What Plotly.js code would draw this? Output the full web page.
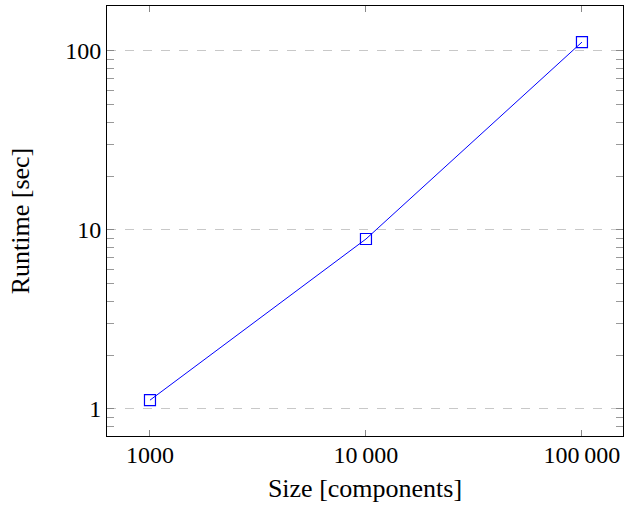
<!DOCTYPE html>
<html>
<head>
<meta charset="utf-8">
<script src="https://cdn.plot.ly/plotly-3.0.1.min.js"></script>
<style>html,body{margin:0;padding:0;background:#fff;}#chart{width:624px;height:510px;}</style>
</head>
<body>
<div id="chart"></div>
<script>
const sizes = [1000, 10000, 100000];
const runtimes = [1.12, 8.9, 112];
const xTickVals = [1000, 10000, 100000];
const xTickText = ["1000", "10\u2009000", "100\u2009000"];
const yTickVals = [1, 10, 100];
const yTickText = ["1", "10", "100"];

const tickFont = {family: "Liberation Serif", size: 24, color: "#000"};
const titleFont = {family: "Liberation Serif", size: 26, color: "#000"};

const trace = {
  x: sizes, y: runtimes, type: "scatter", mode: "lines+markers",
  line: {color: "#0000ff", width: 1},
  marker: {symbol: "square-open", size: 11, color: "#0000ff", line: {width: 1.2}},
  showlegend: false
};

const layout = {
  width: 624, height: 510,
  margin: {l: 107, r: 1, t: 6, b: 74},
  paper_bgcolor: "#fff", plot_bgcolor: "#fff",
  font: tickFont,
  xaxis: {
    type: "log", range: [Math.log10(1000) - 0.199, Math.log10(100000) + 0.19],
    tickvals: xTickVals, ticktext: xTickText,
    ticks: "inside", ticklen: 6, tickcolor: "#888", tickwidth: 1,
    ticklabelstandoff: -3,
    showgrid: false, zeroline: false,
    showline: true, linecolor: "#000", linewidth: 1, mirror: "ticks",
    title: {text: "Size [components]", font: titleFont, standoff: 12},
    tickfont: tickFont
  },
  yaxis: {
    type: "log", range: [-0.151, 2.251],
    tickvals: yTickVals, ticktext: yTickText,
    ticks: "inside", ticklen: 7, tickcolor: "#888", tickwidth: 1,
    showgrid: true, gridcolor: "#c8c8c8", griddash: "dash", gridwidth: 1,
    zeroline: false,
    showline: true, linecolor: "#000", linewidth: 1, mirror: "ticks",
    minor: {ticks: "inside", ticklen: 7, tickcolor: "#999", tickwidth: 1, dtick: "D1", showgrid: false},
    title: {text: "Runtime [sec]", font: titleFont, standoff: 28},
    tickfont: tickFont
  }
};

Plotly.newPlot("chart", [trace], layout, {displayModeBar: false, staticPlot: true});
</script>
</body>
</html>
